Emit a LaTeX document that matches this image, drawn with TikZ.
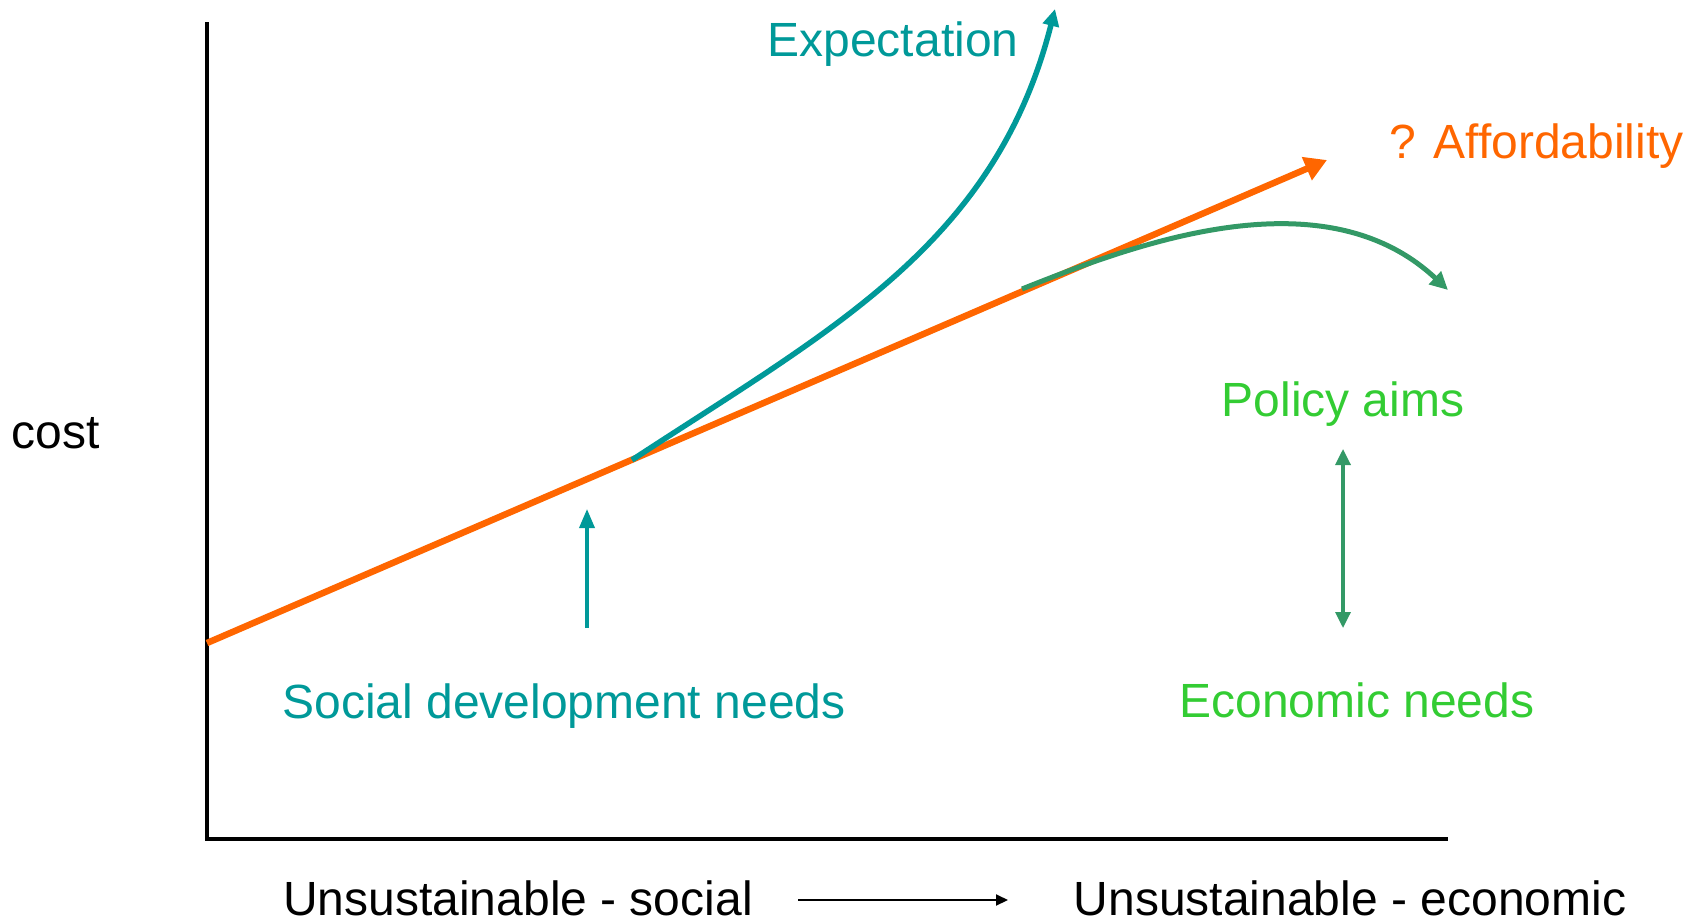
\documentclass[tikz,border=0pt]{standalone}
\usepackage{fontspec}
\setmainfont{Liberation Sans}
\usetikzlibrary{arrows.meta}
\definecolor{teal1}{RGB}{0,153,153}
\definecolor{orange1}{RGB}{255,102,0}
\definecolor{green1}{RGB}{51,204,51}
\definecolor{green2}{RGB}{51,153,102}
\tikzset{
  lbl/.style={font=\fontsize{48}{56}\selectfont, inner sep=0pt},
  axisline/.style={line width=4.5pt, black},
}
\begin{document}
\begin{tikzpicture}[x=1pt,y=-1pt]
\useasboundingbox (0,0) rectangle (1691,920);
% axes
\coordinate (ytop) at (207,24);
\coordinate (orig) at (207,839);
\coordinate (xend) at (1446,839);
\draw[axisline, line cap=rect] (ytop) -- (orig) -- (xend);
% orange line
\coordinate (o1) at (207,643);
\coordinate (o2) at (1327,160);
\draw[orange1, line width=6.5pt, -{Triangle[length=22pt,width=24pt]}] (o1) -- (o2);
% green curve
\coordinate (g1) at (1022,289);
\coordinate (g2) at (1448,290);
\draw[green2, line width=5pt, -{Triangle[length=18pt,width=17pt]}] (g1) .. controls (1130,246) and (1322,172) .. (g2);
% teal curve
\coordinate (t1) at (632,460);
\coordinate (t2) at (1055,9);
\draw[teal1, line width=5.5pt, -{Triangle[length=17pt,width=16pt]}] (t1) .. controls (830,330) and (995,245) .. (t2);
% small teal arrow
\coordinate (s1) at (587,628);
\coordinate (s2) at (587,509);
\draw[teal1, line width=3.5pt, -{Triangle[length=19pt,width=15pt]}] (s1) -- (s2);
% green double arrow
\coordinate (d1) at (1343,449);
\coordinate (d2) at (1343,628);
\draw[green2, line width=3.3pt, {Triangle[length=16pt,width=15pt]}-{Triangle[length=16pt,width=15pt]}] (d1) -- (d2);
% labels
\node[lbl, text=teal1] (exp) at (893,44) {Expectation};
\node[lbl, text=orange1, anchor=west] (aff) at (1389,146) {? Affordability};
\node[lbl, text=green1] (pol) at (1343,404) {Policy aims};
\node[lbl, text=green1] (eco) at (1357,700) {Economic needs};
\node[lbl, text=teal1] (soc) at (564,706) {Social development needs};
\node[lbl] (cost) at (56,433) {cost};
\node[lbl] (us) at (518,898) {Unsustainable - social};
\node[lbl] (ue) at (1350,898) {Unsustainable - economic};
\coordinate (b1) at (798,900);
\coordinate (b2) at (1008,900);
\draw[line width=2pt, -{Triangle[length=12pt,width=11pt]}] (b1) -- (b2);
\end{tikzpicture}
\end{document}
